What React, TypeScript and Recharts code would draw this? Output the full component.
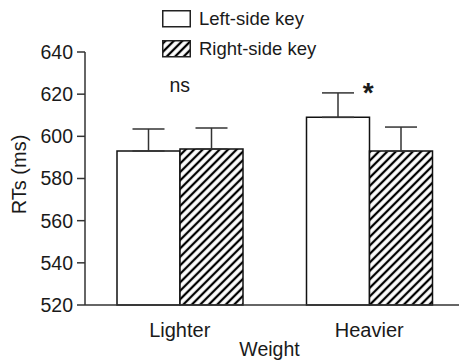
import {
  Bar,
  BarChart,
  ErrorBar,
  Label,
  ReferenceDot,
  XAxis,
  YAxis,
} from "recharts";

const categories = ["Lighter", "Heavier"];
const seriesNames = ["Left-side key", "Right-side key"];
const leftKeyRT = [593, 609];
const rightKeyRT = [594, 593];
const leftKeySE = [10.5, 11.6];
const rightKeySE = [10, 11.4];
const notes = ["ns", "*"];
const noteLevel = [624, 624];
const yTicks = [520, 540, 560, 580, 600, 620, 640];

const FONT = '"Liberation Sans", Arial, sans-serif';
const INK = "#1a1a1a";

const data = categories.map((weight, i) => ({
  weight,
  left: leftKeyRT[i],
  right: rightKeyRT[i],
  leftErr: [0, leftKeySE[i]],
  rightErr: [0, rightKeySE[i]],
}));

function HatchDefs({ id }: { id: string }) {
  return (
    <defs>
      <pattern
        id={id}
        patternUnits="userSpaceOnUse"
        width={6}
        height={6}
        patternTransform="rotate(45)"
      >
        <rect width={6} height={6} fill="#fff" />
        <line x1={3} y1={-1} x2={3} y2={7} stroke="#000" strokeWidth={2.3} />
      </pattern>
    </defs>
  );
}

function KeyLegend() {
  return (
    <div
      style={{
        position: "absolute",
        left: 162,
        top: 11,
        fontFamily: FONT,
        fontSize: 18.5,
        color: INK,
      }}
    >
      {seriesNames.map((name, i) => (
        <div
          key={name}
          style={{ display: "flex", alignItems: "center", height: 30, marginTop: i === 0 ? -7 : 0 }}
        >
          <svg width={30} height={18} style={{ display: "block" }}>
            <HatchDefs id={`legendHatch${i}`} />
            <rect
              x={0.75}
              y={0.75}
              width={27.5}
              height={16}
              fill={i === 0 ? "#fff" : `url(#legendHatch${i})`}
              stroke="#222"
              strokeWidth={1.5}
            />
          </svg>
          <span style={{ marginLeft: 7, lineHeight: "18px" }}>{name}</span>
        </div>
      ))}
    </div>
  );
}

export default function App() {
  return (
    <div
      style={{
        position: "absolute",
        left: 0,
        top: 0,
        width: 459,
        height: 363,
        overflow: "hidden",
        background: "#fff",
      }}
    >
      <BarChart
        width={464}
        height={363}
        data={data}
        margin={{ top: 52, right: 0, bottom: 0, left: 0 }}
        barSize={63}
        barGap={0}
      >
        <HatchDefs id="barHatch" />
        <XAxis
          dataKey="weight"
          height={58}
          tickLine={false}
          tickMargin={12}
          axisLine={{ stroke: "#333", strokeWidth: 1.5 }}
          tick={{ fill: INK, fontSize: 20, fontFamily: FONT }}
        >
          <Label
            content={({ viewBox }: any) => (
              <text
                x={viewBox.x + viewBox.width / 2 - 5}
                y={viewBox.y + 51}
                textAnchor="middle"
                fill={INK}
                fontSize={19.5}
                fontFamily={FONT}
              >
                Weight
              </text>
            )}
          />
        </XAxis>
        <YAxis
          width={85}
          domain={[520, 640]}
          ticks={yTicks}
          interval={0}
          tickSize={8}
          tickMargin={4}
          axisLine={{ stroke: "#333", strokeWidth: 1.5 }}
          tickLine={{ stroke: "#333", strokeWidth: 1.5 }}
          tick={{ fill: INK, fontSize: 19.5, fontFamily: FONT }}
        >
          <Label
            content={({ viewBox }: any) => {
              const cx = viewBox.x + 26;
              const cy = viewBox.y + viewBox.height / 2 - 4;
              return (
                <text
                  x={cx}
                  y={cy}
                  transform={`rotate(-90, ${cx}, ${cy})`}
                  textAnchor="middle"
                  fill={INK}
                  fontSize={20}
                  fontFamily={FONT}
                >
                  RTs (ms)
                </text>
              );
            }}
          />
        </YAxis>
        <Bar
          dataKey="left"
          name={seriesNames[0]}
          fill="#fff"
          stroke="#111"
          strokeWidth={1.5}
          isAnimationActive={false}
        >
          <ErrorBar dataKey="leftErr" width={16} stroke="#333" strokeWidth={1.5} />
        </Bar>
        <Bar
          dataKey="right"
          name={seriesNames[1]}
          fill="url(#barHatch)"
          stroke="#111"
          strokeWidth={1.5}
          isAnimationActive={false}
        >
          <ErrorBar dataKey="rightErr" width={16} stroke="#333" strokeWidth={1.5} />
        </Bar>
        {categories.map((c, i) => (
          <ReferenceDot
            key={c}
            x={c}
            y={noteLevel[i]}
            r={0}
            fill="none"
            stroke="none"
            label={({ viewBox }: any) => {
              const star = notes[i] === "*";
              const cx = viewBox.x + (viewBox.width || 0) / 2;
              const cy = viewBox.y + (viewBox.height || 0) / 2;
              return (
                <text
                  x={star ? cx - 1 : cx}
                  y={star ? cy + 16 : cy + 6}
                  textAnchor="middle"
                  fill={INK}
                  fontSize={star ? 28 : 19.5}
                  fontWeight={star ? "bold" : "normal"}
                  fontFamily={FONT}
                >
                  {notes[i]}
                </text>
              );
            }}
          />
        ))}
      </BarChart>
      <KeyLegend />
    </div>
  );
}
